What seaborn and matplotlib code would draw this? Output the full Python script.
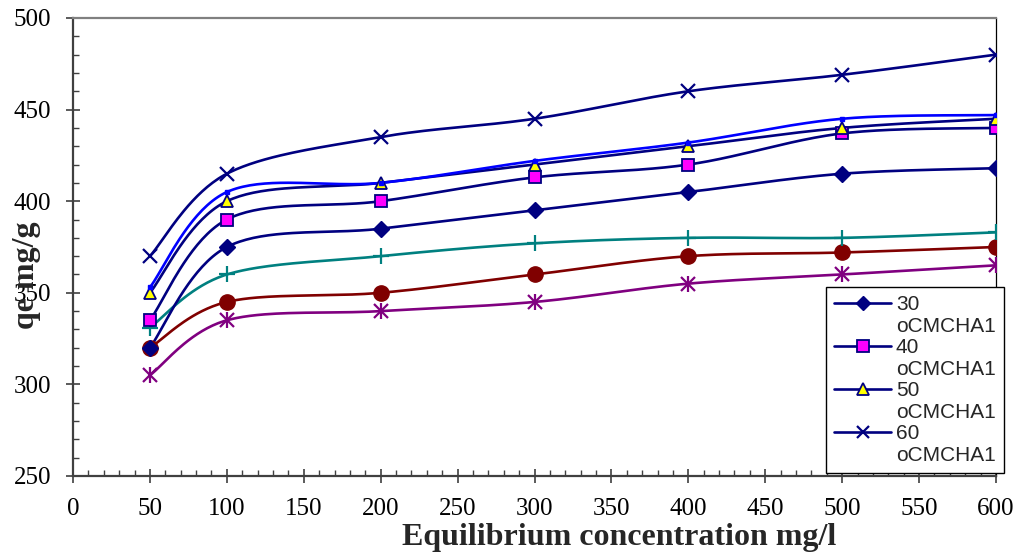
import numpy as np
import pandas as pd
import seaborn as sns
import matplotlib.pyplot as plt
from matplotlib.lines import Line2D
from matplotlib.ticker import MultipleLocator


# -------------------------------------------------
# DATA
# -------------------------------------------------
conc = [50, 100, 200, 300, 400, 500, 600]

q_30 = [320, 375, 385, 395, 405, 415, 418]
q_40 = [335, 390, 400, 413, 420, 437, 440]
q_50 = [350, 400, 410, 420, 430, 440, 445]
q_60 = [370, 415, 435, 445, 460, 469, 480]
q_blue = [353, 405, 410, 422, 432, 445, 447]
q_teal = [331, 360, 370, 377, 380, 380, 383]
q_red = [320, 345, 350, 360, 370, 372, 375]
q_purple = [305, 335, 340, 345, 355, 360, 365]

legend_labels = ["30", "40", "50", "60"]
legend_sub = "oCMCHA1"


# -------------------------------------------------
# EXCEL-LIKE SMOOTH LINE (Catmull-Rom drawn as bezier)
# -------------------------------------------------
def smooth_curve(xs, ys, n=40):
    p = np.column_stack([xs, ys]).astype(float)
    pts = np.vstack([p[0], p, p[-1]])
    out = []
    t = np.linspace(0, 1, n)[:, None]
    for i in range(1, len(pts) - 2):
        p0, p1, p2, p3 = pts[i - 1], pts[i], pts[i + 1], pts[i + 2]
        c1 = p1 + (p2 - p0) / 6
        c2 = p2 - (p3 - p1) / 6
        seg = ((1 - t) ** 3) * p1 + 3 * ((1 - t) ** 2) * t * c1 \
            + 3 * (1 - t) * t ** 2 * c2 + t ** 3 * p2
        out.append(seg if i == 1 else seg[1:])
    seg = np.vstack(out)
    return pd.DataFrame({"x": seg[:, 0], "y": seg[:, 1]})


# -------------------------------------------------
# STYLE
# -------------------------------------------------
sns.set_style("ticks")
plt.rcParams["font.family"] = ["Liberation Serif", "DejaVu Serif"]

NAVY = "#000080"

series = [
    # values, line colour, marker, face, edge, size, mew
    (q_purple, "#800080", None, None, None, 0, 0),
    (q_red, "#800000", "o", "#800000", "#800000", 11, 1),
    (q_teal, "#008080", "+", "#008080", "#008080", 11, 1.6),
    (q_30, NAVY, "D", NAVY, NAVY, 8, 1),
    (q_40, NAVY, "s", "#FF00FF", NAVY, 9, 1.3),
    (q_50, NAVY, "^", "#FFFF00", NAVY, 9, 1.3),
    (q_blue, "#0000FF", "s", "#0000FF", "#0000FF", 3.5, 1),
    (q_60, NAVY, "x", NAVY, NAVY, 10, 1.6),
]

fig = plt.figure(figsize=(10.2, 5.55), dpi=100)
ax = fig.add_axes([73 / 1020, 1 - 476 / 555, 923 / 1020, 458 / 555])

# smoothed lines
for vals, col, mk, fc, ec, ms, mew in series:
    curve = smooth_curve(conc, vals)
    sns.lineplot(data=curve, x="x", y="y", sort=False, estimator=None,
                 color=col, linewidth=1.9, ax=ax)

# markers at the data points
for vals, col, mk, fc, ec, ms, mew in series:
    if mk is None:
        continue
    ax.plot(conc, vals, linestyle="none", marker=mk, markersize=ms,
            markerfacecolor=fc, markeredgecolor=ec, markeredgewidth=mew,
            color=col, zorder=5)

# purple asterisk = x + |
ax.plot(conc, q_purple, linestyle="none", marker="x", markersize=10,
        markeredgewidth=1.6, color="#800080", zorder=5)
ax.plot(conc, q_purple, linestyle="none", marker="|", markersize=12,
        markeredgewidth=1.6, color="#800080", zorder=5)

# -------------------------------------------------
# AXES
# -------------------------------------------------
ax.set_xlim(0, 600)
ax.set_ylim(250, 500)
ax.xaxis.set_major_locator(MultipleLocator(50))
ax.xaxis.set_minor_locator(MultipleLocator(10))
ax.yaxis.set_major_locator(MultipleLocator(50))
ax.yaxis.set_minor_locator(MultipleLocator(10))

ax.tick_params(axis="both", which="major", direction="inout", length=9.5,
               width=1.2, color="#404040", labelsize=18, pad=11,
               labelcolor="black")
ax.tick_params(axis="both", which="minor", direction="in", length=4.5,
               width=1.0, color="#404040")

ax.set_xlabel("")
ax.set_ylabel("")

ax.spines["left"].set_color("#404040")
ax.spines["left"].set_linewidth(1.6)
ax.spines["bottom"].set_color("#404040")
ax.spines["bottom"].set_linewidth(1.6)
ax.spines["top"].set_color("#808080")
ax.spines["top"].set_linewidth(1.6)
ax.spines["right"].set_color("black")
ax.spines["right"].set_linewidth(0.9)

fig.text(619 / 1020, 1 - 537 / 555, "Equilibrium concentration mg/l",
         ha="center", va="center", fontsize=23, fontweight="bold")
fig.text(27 / 1020, 1 - 275 / 555, "qe mg/g", rotation=90,
         ha="center", va="center", fontsize=23, fontweight="bold")

# -------------------------------------------------
# LEGEND (only the four oCMCHA1 series)
# -------------------------------------------------
leg_handles = [
    Line2D([], [], color=NAVY, lw=1.9, marker="D", ms=7,
           mfc=NAVY, mec=NAVY),
    Line2D([], [], color=NAVY, lw=1.9, marker="s", ms=8,
           mfc="#FF00FF", mec=NAVY, mew=1.3),
    Line2D([], [], color=NAVY, lw=1.9, marker="^", ms=8,
           mfc="#FFFF00", mec=NAVY, mew=1.3),
    Line2D([], [], color=NAVY, lw=1.9, marker="x", ms=9,
           mec=NAVY, mew=1.6),
]
blank = Line2D([], [], linestyle="none")
handles, labels = [], []
for h, lab in zip(leg_handles, legend_labels):
    handles += [h, blank]
    labels += [lab, legend_sub]

leg = fig.legend(handles, labels, loc="lower right",
                 bbox_to_anchor=(1004 / 1020, 1 - 473 / 555),
                 bbox_transform=fig.transFigure, borderaxespad=0,
                 frameon=True, fancybox=False, shadow=False,
                 prop={"family": ["Liberation Sans", "DejaVu Sans"], "size": 15},
                 labelspacing=0.12, borderpad=0.4, handlelength=2.7,
                 handletextpad=0.25)
leg.get_frame().set_edgecolor("black")
leg.get_frame().set_linewidth(1.0)
leg.get_frame().set_alpha(1)

plt.savefig("out.png", dpi=100)
